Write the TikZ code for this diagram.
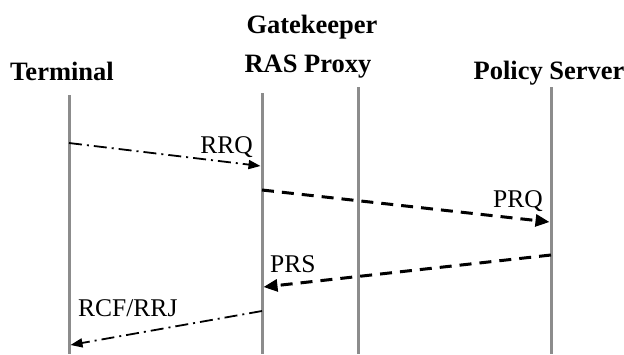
\documentclass[tikz,border=0pt]{standalone}
\usepackage{fontspec}
\setmainfont{Liberation Serif}
\usetikzlibrary{arrows.meta, positioning}

\begin{document}
\begin{tikzpicture}[x=1pt, y=-1pt,
  actor/.style={font=\fontsize{26.5}{30}\selectfont\bfseries, inner sep=0pt},
  msglabel/.style={font=\fontsize{25.5}{30}\selectfont, inner sep=0pt},
  lifeline/.style={draw=black!45, line width=3pt},
  request/.style={line width=1.8pt, dash pattern=on 13pt off 5pt on 2pt off 5pt,
    -{Triangle[length=12pt,width=9pt]}},
  policy/.style={line width=3pt, dash pattern=on 12pt off 8pt,
    -{Triangle[length=14pt,width=12pt]}}]

\useasboundingbox (0,0) rectangle (624,354);

% Headers
\node[actor, anchor=base] (term) at (62,80) {Terminal};
\node[actor, anchor=base] (gk) at (312,33) {Gatekeeper};
\node[actor, anchor=base] (ras) at (308,72) {RAS Proxy};
\node[actor, anchor=base] (pol) at (549,79) {Policy Server};

% Lifelines
\foreach \n/\x/\y in {termL/69/95, rasL/262/93, midL/358/87, polL/551/87}
{
    \coordinate (\n top) at (\x,\y);
    \coordinate (\n bot) at (\x,354);
    \draw[lifeline] (\n top) -- (\n bot);
}

% Message end points
\coordinate (rrq s) at (69,143);
\coordinate (rrq e) at (260.5,166);
\coordinate (prq s) at (262,190);
\coordinate (prq e) at (549.5,222);
\coordinate (prs s) at (551,255);
\coordinate (prs e) at (263.5,287);
\coordinate (rcf s) at (262,311);
\coordinate (rcf e) at (70.5,345);

% Messages
\draw[request] (rrq s) -- (rrq e);
\draw[policy] (prq s) -- (prq e);
\draw[policy] (prs s) -- (prs e);
\draw[request] (rcf s) -- (rcf e);

% Labels
\node[msglabel, anchor=base east] (rrq) at (253,153) {RRQ};
\node[msglabel, anchor=base east] (prq) at (543,207) {PRQ};
\node[msglabel, anchor=base west] (prs) at (270,272) {PRS};
\node[msglabel, anchor=base west] (rcf) at (78,316) {RCF/RRJ};

\end{tikzpicture}
\end{document}
